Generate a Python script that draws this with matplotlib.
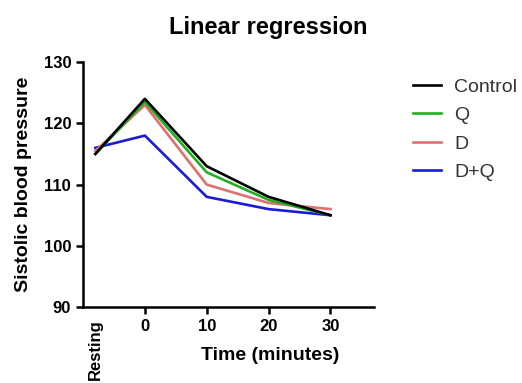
import matplotlib
matplotlib.use("Agg")
import matplotlib.pyplot as plt

plt.rcParams['font.family'] = ['Liberation Sans', 'DejaVu Sans']

# time points (Resting placed left of 0)
times = [-8, 0, 10, 20, 30]
tick_labels = ['Resting', '0', '10', '20', '30']

control = [115, 124, 113, 108, 105]
q = [115, 123.5, 112, 107.5, 105]
d = [115.5, 123, 110, 107, 106]
dq = [116, 118, 108, 106, 105]

fig = plt.figure(figsize=(5.22, 3.83), dpi=100)
ax = fig.add_axes([0.159, 0.198, 0.557, 0.64])

ax.plot(times, dq, color='#1a1adb', lw=1.9, label='D+Q')
ax.plot(times, d, color='#e07070', lw=1.9, label='D')
ax.plot(times, q, color='#22b022', lw=1.9, label='Q')
ax.plot(times, control, color='black', lw=1.9, label='Control')

ax.set_xlim(-10, 37)
ax.set_ylim(90, 130)
ax.set_yticks([90, 100, 110, 120, 130])
ax.set_xticks(times)
ax.set_xticklabels(tick_labels, fontweight='bold', fontsize=12)
ax.get_xticklabels()[0].set_rotation(90)
ax.get_xticklabels()[0].set_va('top')
ax.xaxis.get_major_ticks()[0].tick1line.set_visible(False)
for lab in ax.get_yticklabels():
    lab.set_fontweight('bold')
    lab.set_fontsize(12)

for s in ['top', 'right']:
    ax.spines[s].set_visible(False)
for s in ['left', 'bottom']:
    ax.spines[s].set_linewidth(1.8)
ax.tick_params(width=1.8, length=5)

ax.set_ylabel('Sistolic blood pressure', fontsize=14, fontweight='bold')
ax.yaxis.set_label_coords(-0.175, 0.5)
ax.set_xlabel('Time (minutes)', fontsize=14, fontweight='bold')
ax.xaxis.set_label_coords(0.643, -0.163)
ax.set_title('Linear regression', fontsize=17, fontweight='bold', pad=20, x=0.636)

handles, labels = ax.get_legend_handles_labels()
leg = ax.legend(handles[::-1], labels[::-1], loc='upper left', bbox_to_anchor=(1.076, 1.005),
                frameon=False, fontsize=14, handlelength=1.4, handletextpad=0.7,
                labelspacing=0.55)
for t in leg.get_texts():
    t.set_color('#333333')

fig.savefig('out.png', dpi=100)
